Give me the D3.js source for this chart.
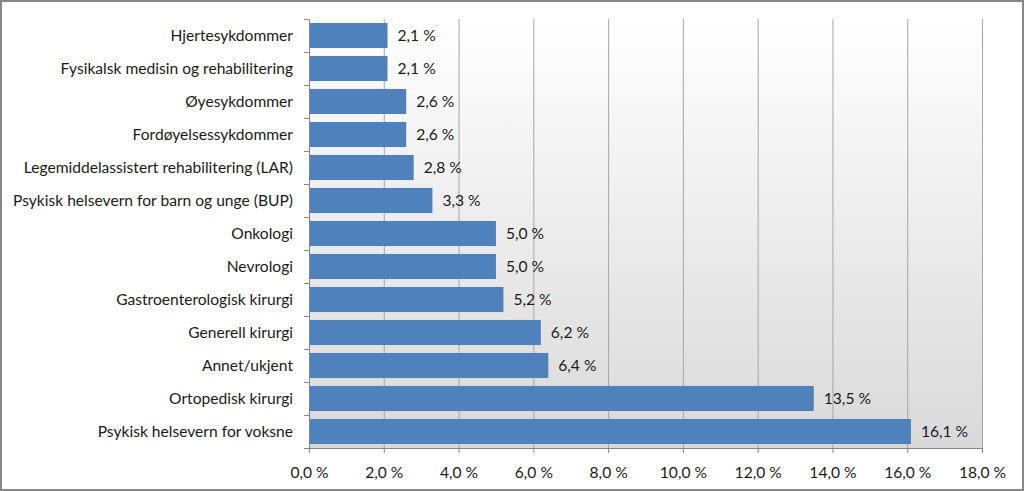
<!DOCTYPE html>
<html lang="no">
<head>
<meta charset="UTF-8">
<title>Fagområder</title>
<script src="https://d3js.org/d3.v7.min.js"></script>
<style>
  body { margin: 0; background: #fff; }
  svg text { font-family: Lato, "Open Sans", sans-serif; fill: #1a1a1a; }
</style>
</head>
<body>
<svg id="main" width="1024" height="491"></svg>
<script>
// data, top to bottom
const categories = [
  "Hjertesykdommer",
  "Fysikalsk medisin og rehabilitering",
  "Øyesykdommer",
  "Fordøyelsessykdommer",
  "Legemiddelassistert rehabilitering (LAR)",
  "Psykisk helsevern for barn og unge (BUP)",
  "Onkologi",
  "Nevrologi",
  "Gastroenterologisk kirurgi",
  "Generell kirurgi",
  "Annet/ukjent",
  "Ortopedisk kirurgi",
  "Psykisk helsevern for voksne"
];
const values = [2.1, 2.1, 2.6, 2.6, 2.8, 3.3, 5.0, 5.0, 5.2, 6.2, 6.4, 13.5, 16.1];
const xTicks = [0, 2, 4, 6, 8, 10, 12, 14, 16, 18];

const svg = d3.select('svg#main');
const fmt = v => d3.format('.1f')(v).replace('.', ',') + ' %';
const fontSize = '15.6px';

const plot = {left: 309, right: 982, top: 19, bottom: 448};

let x = d3.scaleLinear().domain([0, 18]).range([plot.left, plot.right]);
let y = d3.scaleBand().domain(categories).range([plot.top, plot.bottom]).paddingInner(0.24).paddingOuter(0.12);

// outer frame
svg.append('rect').attr('x', 1).attr('y', 1).attr('width', 1022).attr('height', 489)
   .style('fill', '#fff').style('stroke', '#868686').style('stroke-width', 2);

// plot background gradient
let defs = svg.append('defs');
let grad = defs.append('linearGradient').attr('id', 'bg').attr('x1', 0).attr('y1', 0).attr('x2', 0).attr('y2', 1);
grad.append('stop').attr('offset', '0%').attr('stop-color', '#ffffff');
grad.append('stop').attr('offset', '100%').attr('stop-color', '#d9d9d9');

svg.append('rect')
   .attr('x', plot.left).attr('y', plot.top)
   .attr('width', plot.right - plot.left).attr('height', plot.bottom - plot.top)
   .style('fill', 'url(#bg)');

// gridlines
svg.append('g').selectAll('line').data(xTicks.slice(1)).join('line')
   .attr('x1', d => x(d) + 0.5).attr('x2', d => x(d) + 0.5)
   .attr('y1', plot.top).attr('y2', plot.bottom)
   .style('stroke', '#a6a6a6').style('stroke-width', 1);

// bars
svg.append('g').selectAll('rect').data(values).join('rect')
   .attr('x', x(0))
   .attr('y', (d, i) => y(categories[i]))
   .attr('width', d => x(d) - x(0))
   .attr('height', y.bandwidth())
   .style('fill', '#4f81bd');

// value labels
svg.append('g').selectAll('text').data(values).join('text')
   .attr('x', d => x(d) + 10)
   .attr('y', (d, i) => y(categories[i]) + y.bandwidth() / 2)
   .attr('dy', '0.35em')
   .style('font-size', fontSize)
   .text(d => fmt(d));

// x axis
let xAxis = svg.append('g')
   .attr('transform', 'translate(0,' + plot.bottom + ')')
   .call(d3.axisBottom(x).tickValues(xTicks).tickSize(5).tickSizeOuter(0).tickFormat(fmt).tickPadding(14));
xAxis.select('.domain').style('stroke', '#868686');
xAxis.selectAll('.tick line').style('stroke', '#868686');
xAxis.selectAll('text').style('font-size', fontSize).style('font-family', 'Lato, "Open Sans", sans-serif').style('fill', '#1a1a1a');

// y axis
let yAxis = svg.append('g')
   .attr('transform', 'translate(' + plot.left + ',0)')
   .call(d3.axisLeft(y).tickSize(0).tickPadding(16));
yAxis.select('.domain').style('stroke', '#868686');
yAxis.selectAll('text').style('font-size', fontSize).style('font-family', 'Lato, "Open Sans", sans-serif').style('fill', '#1a1a1a');

// y ticks between categories
let bounds = d3.range(categories.length + 1).map(i => plot.top + i * (plot.bottom - plot.top) / categories.length);
svg.append('g').selectAll('line').data(bounds).join('line')
   .attr('x1', plot.left - 5).attr('x2', plot.left)
   .attr('y1', d => Math.round(d) + 0.5).attr('y2', d => Math.round(d) + 0.5)
   .style('stroke', '#868686');
</script>
</body>
</html>
